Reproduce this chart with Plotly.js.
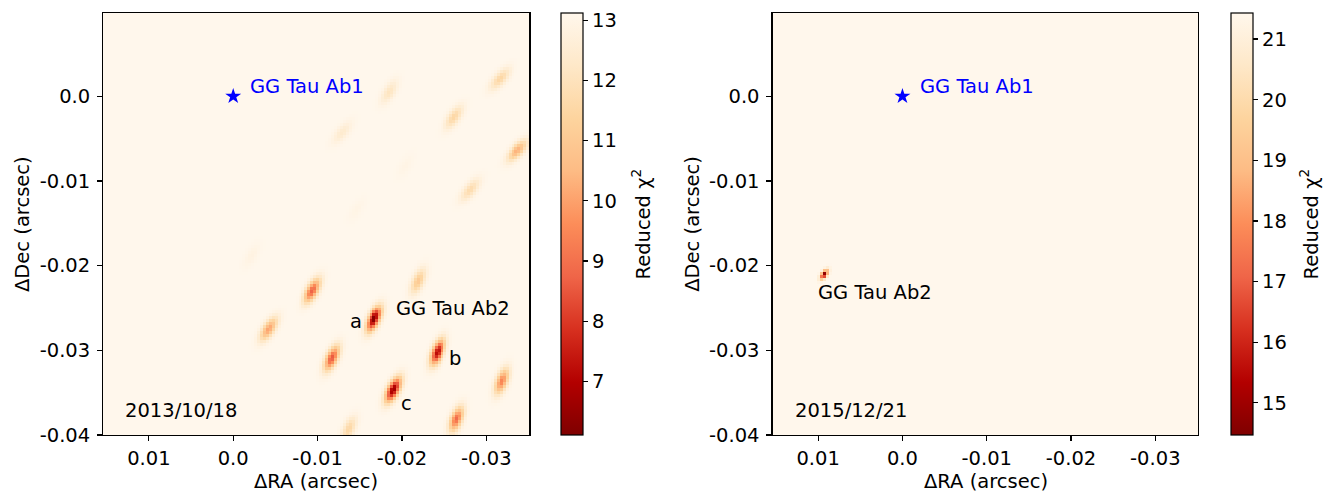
<!DOCTYPE html>
<html><head><meta charset="utf-8">
<script src="https://cdn.plot.ly/plotly-3.0.1.min.js"></script>
<style>html,body{margin:0;padding:0;background:#fff}</style>
</head><body>
<div id="chart" style="width:1331px;height:493px"></div>
<script>
// ---------- axes ----------
const xTickVals = [0.01, 0.0, -0.01, -0.02, -0.03];
const xTickText = ["0.01", "0.0", "-0.01", "-0.02", "-0.03"];
const yTickVals = [0.0, -0.01, -0.02, -0.03, -0.04];
const yTickText = ["0.0", "-0.01", "-0.02", "-0.03", "-0.04"];
const raRange = [0.0154, -0.0351];
const decRange = [-0.0400, 0.0098];
const gridStep = 0.00035;

// ---------- 2013/10/18 chi2 minima ----------
const blobRA2013     = [-0.0316, -0.0185, -0.0262, -0.0129, -0.0337, -0.0281, -0.0219, -0.0094, -0.0167, -0.0042, -0.0242, -0.0117, -0.0190, -0.0318, -0.0265, -0.0137, -0.0022, -0.0204, -0.0146];
const blobDec2013    = [0.0021, 0.0005, -0.0025, -0.0043, -0.0064, -0.0110, -0.0218, -0.0229, -0.0263, -0.0275, -0.0302, -0.0309, -0.0346, -0.0336, -0.0381, -0.0393, -0.0188, -0.0082, -0.0134];
const blobChi2_2013  = [11.5, 12.1, 11.5, 12.4, 10.3, 11.7, 11.0, 8.7, 6.11, 10.0, 7.0, 8.5, 6.5, 9.4, 8.9, 11.5, 12.85, 12.95, 12.95];
const blobAngle2013  = [48, 60, 55, 50, 46, 51, 66, 61, 65, 57, 68, 65, 63, 69, 70, 67, 60, 60, 60];
const chi2Range2013  = [6.11, 13.12];

// ---------- 2015/12/21 chi2 minimum ----------
const blobRA2015    = [0.0093];
const blobDec2015   = [-0.0210];
const blobChi2_2015 = [14.47];
const blobAngle2015 = [55];
const chi2Range2015 = [14.47, 21.43];

// ---------- labels ----------
const epochLabels = ["2013/10/18", "2015/12/21"];
const ab2Labels2013 = { text: ["a", "b", "c"], ra: [-0.0145, -0.0263, -0.0205], dec: [-0.0266, -0.0310, -0.0363] };

// OrRd reversed (matplotlib OrRd_r)
const orrd = ["#7f0000", "#b30000", "#d7301f", "#ef6548", "#fc8d59", "#fdbb84", "#fdd49e", "#fee8c8", "#fff7ec"];
const colorscale = orrd.map((c, i) => [i / (orrd.length - 1), c]);

function buildGrid(ras, decs, mins, angles, base, sMaj, sMin) {
  const nx = Math.round((raRange[0] - raRange[1]) / gridStep);
  const ny = Math.round((decRange[1] - decRange[0]) / gridStep);
  const dx = (raRange[0] - raRange[1]) / nx, dy = (decRange[1] - decRange[0]) / ny;
  const xs = [], ys = [], z = [];
  for (let i = 0; i < nx; i++) xs.push(raRange[1] + (i + 0.5) * dx);
  for (let j = 0; j < ny; j++) ys.push(decRange[0] + (j + 0.5) * dy);
  for (let j = 0; j < ny; j++) {
    const row = [];
    for (let i = 0; i < nx; i++) {
      let v = base;
      for (let k = 0; k < ras.length; k++) {
        const th = angles[k] * Math.PI / 180;
        const ddx = xs[i] - ras[k], ddy = ys[j] - decs[k];
        const a = -ddx * Math.cos(th) + ddy * Math.sin(th);
        const b = ddx * Math.sin(th) + ddy * Math.cos(th);
        v -= (base - mins[k]) * Math.exp(-0.5 * (a * a / (sMaj * sMaj) + b * b / (sMin * sMin)));
      }
      row.push(v);
    }
    z.push(row);
  }
  return { x: xs, y: ys, z: z };
}

const g1 = buildGrid(blobRA2013, blobDec2013, blobChi2_2013, blobAngle2013, chi2Range2013[1], 0.00105, 0.00045);
const g2 = buildGrid(blobRA2015, blobDec2015, blobChi2_2015, blobAngle2015, chi2Range2015[1], 0.00042, 0.00022);

const FS = 19.5;
const FONT = "DejaVu Sans, Liberation Sans, sans-serif";
function cbar(xpos, ticks) {
  return {
    x: xpos, xanchor: "left", xpad: 0, ypad: 0,
    y: 0.1176, yanchor: "bottom", len: 0.8554, lenmode: "fraction",
    thickness: 22, outlinewidth: 1.2, outlinecolor: "#000",
    ticks: "outside", ticklen: 5, tickwidth: 1.2, tickcolor: "#000",
    tickvals: ticks, tickfont: { size: FS, color: "#000", family: FONT }
  };
}

const traces = [
  { type: "heatmap", x: g1.x, y: g1.y, z: g1.z, xaxis: "x", yaxis: "y",
    colorscale: colorscale, zmin: chi2Range2013[0], zmax: chi2Range2013[1], zsmooth: false,
    colorbar: cbar(561 / 1331, [7, 8, 9, 10, 11, 12, 13]), hoverinfo: "skip" },
  { type: "heatmap", x: g2.x, y: g2.y, z: g2.z, xaxis: "x2", yaxis: "y2",
    colorscale: colorscale, zmin: chi2Range2015[0], zmax: chi2Range2015[1], zsmooth: false,
    colorbar: cbar(1230.7 / 1331, [15, 16, 17, 18, 19, 20, 21]), hoverinfo: "skip" },
  { type: "scatter", mode: "markers", x: [0], y: [0], xaxis: "x", yaxis: "y",
    marker: { symbol: "star", size: 12, color: "#0000ff" }, showlegend: false, hoverinfo: "skip" },
  { type: "scatter", mode: "markers", x: [0], y: [0], xaxis: "x2", yaxis: "y2",
    marker: { symbol: "star", size: 12, color: "#0000ff" }, showlegend: false, hoverinfo: "skip" }
];

function xax(dom) {
  return { domain: dom, range: raRange, tickvals: xTickVals, ticktext: xTickText,
    ticks: "outside", ticklen: 5, tickwidth: 1.2, tickcolor: "#000",
    showline: true, linecolor: "#000", linewidth: 1.2, mirror: true,
    showgrid: false, zeroline: false, tickfont: { size: FS, color: "#000", family: FONT } };
}
function yax(anchor) {
  return { domain: [0.1176, 0.973], range: decRange, tickvals: yTickVals, ticktext: yTickText, anchor: anchor,
    ticks: "outside", ticklen: 5, tickwidth: 1.2, tickcolor: "#000", ticklabelstandoff: 3,
    showline: true, linecolor: "#000", linewidth: 1.2, mirror: true,
    showgrid: false, zeroline: false, tickfont: { size: FS, color: "#000", family: FONT } };
}

const ann = [];
function txt(xref, yref, x, y, text, opts) {
  ann.push(Object.assign({ xref: xref, yref: yref, x: x, y: y, text: text, showarrow: false,
    font: { size: FS, color: "#000", family: FONT }, xanchor: "left", yanchor: "middle" }, opts || {}));
}
const blue = { size: FS, color: "#0000ff", family: FONT };
// panel 1
txt("x", "y", -0.0018, 0.0011, "GG Tau Ab1", { font: blue });
txt("x", "y", -0.0190, -0.0251, "GG Tau Ab2");
for (let i = 0; i < ab2Labels2013.text.length; i++)
  txt("x", "y", ab2Labels2013.ra[i], ab2Labels2013.dec[i], ab2Labels2013.text[i], { xanchor: "center" });
txt("x", "y", 0.0131, -0.0371, epochLabels[0]);
// panel 2
txt("x2", "y2", -0.0018, 0.0011, "GG Tau Ab1", { font: blue });
txt("x2", "y2", 0.0102, -0.0232, "GG Tau Ab2");
txt("x2", "y2", 0.0130, -0.0371, epochLabels[1]);
// axis titles
txt("paper", "paper", 0.2376, 0.024, "ΔRA (arcsec)", { xanchor: "center" });
txt("paper", "paper", 0.7405, 0.024, "ΔRA (arcsec)", { xanchor: "center" });
txt("paper", "paper", 0.0165, 0.5456, "ΔDec (arcsec)", { xanchor: "center", textangle: -90 });
txt("paper", "paper", 0.5197, 0.5456, "ΔDec (arcsec)", { xanchor: "center", textangle: -90 });
// colorbar titles
txt("paper", "paper", 641.5 / 1331, 0.5456, "Reduced χ<sup>2</sup>", { xanchor: "center", textangle: -90 });
txt("paper", "paper", 1309.5 / 1331, 0.5456, "Reduced χ<sup>2</sup>", { xanchor: "center", textangle: -90 });

const layout = {
  width: 1331, height: 493, margin: { l: 0, r: 0, t: 0, b: 0 },
  paper_bgcolor: "#fff", plot_bgcolor: "#fff8ee",
  font: { family: FONT, size: FS, color: "#000" },
  showlegend: false,
  xaxis: Object.assign(xax([0.0776, 0.3977]), { anchor: "y" }),
  yaxis: yax("x"),
  xaxis2: Object.assign(xax([0.5805, 0.9003]), { anchor: "y2" }),
  yaxis2: yax("x2"),
  annotations: ann
};

Plotly.newPlot("chart", traces, layout, { staticPlot: true, displayModeBar: false });
</script>
</body></html>
